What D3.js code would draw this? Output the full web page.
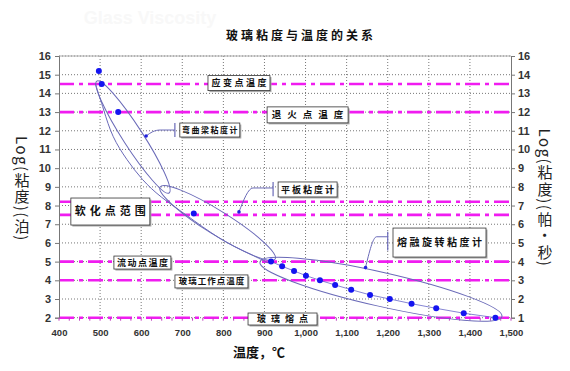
<!DOCTYPE html>
<html>
<head>
<meta charset="utf-8">
<script src="https://cdn.jsdelivr.net/npm/d3@7"></script>
<style>
  body { margin: 0; background: #fff; }
  svg { display: block; }
  .tick text { font-family: "Liberation Sans", Arial, sans-serif; fill: #333; }
</style>
</head>
<body>
<div id="chart"></div>
<script>
// valores
const temps = [497, 504, 544, 728, 916, 943, 972, 1001, 1035, 1072, 1111, 1157, 1205, 1258, 1318, 1385, 1462];
const logVisc = [15.2, 14.5, 13.0, 7.57, 5.0, 4.75, 4.5, 4.25, 4.0, 3.75, 3.5, 3.22, 3.0, 2.75, 2.5, 2.24, 2.0];

// lineas de referencia (magenta)
const refLevels = [14.5, 13, 8.2, 7.5, 5, 4, 2];

const xTicks = [400, 500, 600, 700, 800, 900, 1000, 1100, 1200, 1300, 1400, 1500];
const yTicks = [2, 3, 4, 5, 6, 7, 8, 9, 10, 11, 12, 13, 14, 15, 16];
const rightTickLabels = ['1', '2', '3', '4', '5', '6', '7', '8', '9', '10', '11', '12', '13', '14', '16'];

// elipses: extremos (temp, log) y semi-eje menor en px
const ellipses = [
  { a: [492, 14.66], b: [668, 8.67], ry: 10 },
  { a: [646, 8.99], b: [926, 5.14], ry: 12 },
  { a: [889, 4.98], b: [1478, 2.06], ry: 17 }
];
const outerCurve = [[488, 14.55], [509, 13.11], [529, 11.67], [565, 10.44], [602, 9.37], [646, 8.46], [707, 7.55], [792, 6.16], [865, 5.41], [909, 4.93]];

// flechas de los viscosimetros
const pointers = [
  { pts: [[612, 11.72], [628, 11.95], [646, 12.04], [682, 12.04]], bar: [682, 12.42, 11.67] },
  { pts: [[838, 7.66], [872, 8.94], [921, 8.94]], bar: [921, 9.26, 8.5] },
  { pts: [[1146, 4.68], [1173, 6.33], [1200, 6.33]], bar: [1200, 6.6, 5.6] }
];

// cajas de texto: centro (temp, log), tamano
const boxes = [
  { text: '应变点温度', t: 838, v: 14.55, w: 62, h: 15, fs: 9, ls: 2.5 },
  { text: '退火点温度', t: 1005, v: 12.85, w: 81, h: 16, fs: 9.5, ls: 6 },
  { text: '弯曲梁粘度计', t: 767, v: 12.04, w: 60, h: 14, fs: 8, ls: 1.5 },
  { text: '平板粘度计', t: 1005, v: 8.86, w: 59, h: 15, fs: 9, ls: 2 },
  { text: '软化点范围', t: 525, v: 7.68, w: 79, h: 27, fs: 11, ls: 4 },
  { text: '熔融旋转粘度计', t: 1326, v: 6.02, w: 93, h: 29, fs: 10, ls: 2.5 },
  { text: '流动点温度', t: 603, v: 4.95, w: 57, h: 13, fs: 9, ls: 1.5 },
  { text: '玻璃工作点温度', t: 771, v: 3.94, w: 73, h: 13, fs: 8.5, ls: 1 },
  { text: '玻璃熔点', t: 944, v: 1.93, w: 69, h: 12, fs: 9, ls: 5 }
];

const W = 570, H = 371;
const svg = d3.select('#chart').append('svg').attr('width', W).attr('height', H);

const x = d3.scaleLinear().domain([400, 1500]).range([59, 511]);
const y = d3.scaleLinear().domain([2, 16]).range([317.7, 56]);
const cjk = '"Noto Sans CJK SC", sans-serif';

// marca de agua tenue
svg.append('text').attr('x', 150).attr('y', 24).attr('text-anchor', 'middle')
  .attr('font-family', 'Arial, sans-serif').attr('font-weight', 'bold').attr('font-size', 18)
  .attr('fill', '#f8f8f8').text('Glass Viscosity');

// titulo
svg.append('text').attr('x', 301).attr('y', 40).attr('text-anchor', 'middle')
  .attr('font-family', cjk).attr('font-weight', 'bold').attr('font-size', 12)
  .attr('letter-spacing', 3).attr('fill', '#111').text('玻璃粘度与温度的关系');

// rejilla punteada
const grid = svg.append('g');
grid.selectAll('line.h').data(yTicks).join('line')
  .attr('x1', x(400)).attr('x2', x(1500)).attr('y1', (d) => y(d)).attr('y2', (d) => y(d))
  .attr('stroke', '#777').attr('stroke-dasharray', '1,2');
grid.selectAll('line.v').data(xTicks.slice(1, -1)).join('line')
  .attr('x1', (d) => x(d)).attr('x2', (d) => x(d)).attr('y1', y(16)).attr('y2', y(2))
  .attr('stroke', '#777').attr('stroke-dasharray', '1,2');
svg.append('line').attr('x1', x(400)).attr('x2', x(1500)).attr('y1', y(16)).attr('y2', y(16))
  .attr('stroke', '#aaa');

// lineas magenta
svg.append('g').selectAll('line').data(refLevels).join('line')
  .attr('x1', x(400)).attr('x2', x(1500)).attr('y1', (d) => y(d)).attr('y2', (d) => y(d))
  .attr('stroke', '#f01cf0').attr('stroke-width', 2.6).attr('stroke-dasharray', '15,5,4,5');

// ejes
const axL = svg.append('g').attr('transform', `translate(${x(400)},0)`)
  .call(d3.axisLeft(y).tickValues(yTicks).tickSize(4).tickPadding(4));
const axR = svg.append('g').attr('transform', `translate(${x(1500)},0)`)
  .call(d3.axisRight(y).tickValues(yTicks).tickSize(4).tickPadding(3)
    .tickFormat((d, i) => rightTickLabels[i]));
const axB = svg.append('g').attr('transform', `translate(0,${y(2)})`)
  .call(d3.axisBottom(x).tickValues(xTicks).tickSize(0).tickPadding(12).tickFormat(d3.format(',')));
[axL, axR].forEach((g) => {
  g.selectAll('text').attr('font-size', 11).attr('font-weight', 'bold');
  g.select('.domain').attr('stroke', '#777');
  g.selectAll('.tick line').attr('stroke', '#777');
});
axB.selectAll('text').attr('font-size', 9.5).attr('font-weight', 'bold');
axB.select('.domain').remove();
// ticks menores del eje x
svg.append('g').selectAll('line').data(d3.range(400, 1501, 25)).join('line')
  .attr('x1', (d) => x(d)).attr('x2', (d) => x(d)).attr('y1', y(2)).attr('y2', y(2) + 3)
  .attr('stroke', '#c040c0');

// elipses
const ellG = svg.append('g').attr('fill', 'none').attr('stroke', '#6a6ab8').attr('stroke-width', 1);
ellipses.forEach((e) => {
  const x1 = x(e.a[0]), y1 = y(e.a[1]), x2 = x(e.b[0]), y2 = y(e.b[1]);
  const cx = (x1 + x2) / 2, cy = (y1 + y2) / 2;
  const rx = Math.hypot(x2 - x1, y2 - y1) / 2;
  const ang = Math.atan2(y2 - y1, x2 - x1) * 180 / Math.PI;
  ellG.append('ellipse').attr('cx', cx).attr('cy', cy).attr('rx', rx).attr('ry', e.ry)
    .attr('transform', `rotate(${ang},${cx},${cy})`);
});
ellG.append('path')
  .attr('d', d3.line().x((d) => x(d[0])).y((d) => y(d[1])).curve(d3.curveBasis)(outerCurve));

// serie de datos
const pts = temps.map((t, i) => [t, logVisc[i]]);
svg.append('path').attr('fill', 'none').attr('stroke', '#5050c0').attr('stroke-width', 0.7)
  .attr('d', d3.line().x((d) => x(d[0])).y((d) => y(d[1]))(pts.filter((d) => d[0] >= 900)));
svg.append('g').selectAll('circle').data(pts).join('circle')
  .attr('cx', (d) => x(d[0])).attr('cy', (d) => y(d[1])).attr('r', 3)
  .attr('fill', '#1414f0');

// flechas
const ptrG = svg.append('g');
pointers.forEach((p) => {
  ptrG.append('path').attr('fill', 'none').attr('stroke', '#6a6ab8').attr('stroke-width', 1)
    .attr('d', d3.line().x((d) => x(d[0])).y((d) => y(d[1])).curve(d3.curveMonotoneX)(p.pts));
  ptrG.append('line').attr('x1', x(p.bar[0])).attr('x2', x(p.bar[0]))
    .attr('y1', y(p.bar[1])).attr('y2', y(p.bar[2])).attr('stroke', '#6a6ab8').attr('stroke-width', 1.2);
  ptrG.append('circle').attr('cx', x(p.pts[0][0])).attr('cy', y(p.pts[0][1])).attr('r', 1.8)
    .attr('fill', '#2020e0');
});

// cajas
const boxG = svg.append('g');
boxes.forEach((b) => {
  const cx = x(b.t), cy = y(b.v);
  boxG.append('rect').attr('x', cx - b.w / 2 + 1.5).attr('y', cy - b.h / 2 + 1.5)
    .attr('width', b.w).attr('height', b.h).attr('fill', '#aaa');
  boxG.append('rect').attr('x', cx - b.w / 2).attr('y', cy - b.h / 2)
    .attr('width', b.w).attr('height', b.h).attr('fill', '#fff').attr('stroke', '#333').attr('stroke-width', 0.8);
  boxG.append('text').attr('x', cx + b.ls / 2).attr('y', cy).attr('dy', '0.36em')
    .attr('text-anchor', 'middle').attr('font-family', cjk).attr('font-weight', 'bold')
    .attr('font-size', b.fs).attr('letter-spacing', b.ls).attr('fill', '#111').text(b.text);
});

// titulos de ejes
svg.append('text').attr('x', 259).attr('y', 357).attr('text-anchor', 'middle')
  .attr('font-family', cjk).attr('font-weight', 'bold').attr('font-size', 13)
  .attr('fill', '#111').text('温度，℃');
svg.append('text').attr('x', 22).attr('y', 189).attr('text-anchor', 'middle')
  .style('writing-mode', 'vertical-rl').attr('font-family', cjk).attr('font-size', 15)
  .attr('letter-spacing', 1.5).attr('fill', '#222').text('Log(粘度)(泊)');
svg.append('text').attr('x', 545).attr('y', 198).attr('text-anchor', 'middle')
  .style('writing-mode', 'vertical-rl').attr('font-family', cjk).attr('font-size', 15)
  .attr('letter-spacing', 1.5).attr('fill', '#222').text('Log(粘度)(帕·秒)');
</script>
</body>
</html>
